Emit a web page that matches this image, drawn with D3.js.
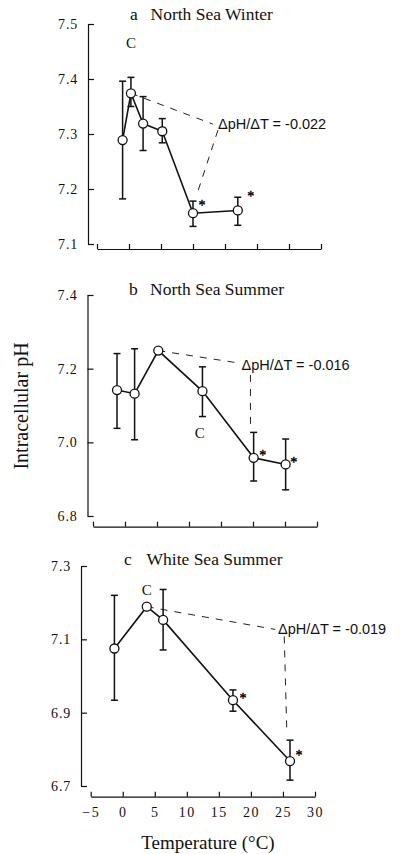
<!DOCTYPE html>
<html>
<head>
<meta charset="utf-8">
<script src="https://cdn.jsdelivr.net/npm/d3@7"></script>
<style>
  html, body { margin: 0; padding: 0; background: #fff; }
  svg { display: block; }
</style>
</head>
<body>
<svg id="chart" width="402" height="854"></svg>
<script>
// Panel a: North Sea Winter
const tempA = [-1, 0.3, 2.2, 5.2, 10, 17];
const phA = [7.289, 7.374, 7.319, 7.305, 7.156, 7.161];
const hiA = [7.396, 7.403, 7.368, 7.328, 7.178, 7.185];
const loA = [7.182, 7.350, 7.270, 7.284, 7.132, 7.134];
const starA = [false, false, false, false, true, true];
const yTicksA = [7.1, 7.2, 7.3, 7.4, 7.5];

// Panel b: North Sea Summer
const tempB = [-1.25, 1.5, 5.2, 12.1, 20.1, 25.1];
const phB = [7.142, 7.132, 7.249, 7.139, 6.958, 6.940];
const hiB = [7.241, 7.254, null, 7.205, 7.027, 7.009];
const loB = [7.038, 7.007, null, 7.070, 6.895, 6.871];
const starB = [false, false, false, false, true, true];
const yTicksB = [6.8, 7.0, 7.2, 7.4];

// Panel c: White Sea Summer
const tempC = [-1.3, 3.75, 6.3, 17.2, 26.1];
const phC = [7.075, 7.189, 7.153, 6.934, 6.768];
const hiC = [7.220, null, 7.236, 6.962, 6.825];
const loC = [6.934, null, 7.071, 6.904, 6.716];
const starC = [false, false, false, true, true];
const yTicksC = [6.7, 6.9, 7.1, 7.3];

const xTicks = [-5, 0, 5, 10, 15, 20, 25, 30];
const slopeLabels = ["\u0394pH/\u0394T = -0.022", "\u0394pH/\u0394T = -0.016", "\u0394pH/\u0394T = -0.019"];

const SERIF = '"Liberation Serif", "Times New Roman", serif';
const SANS = '"Liberation Sans", Arial, sans-serif';
const INK = "#111";

const panels = [
  {
    letter: "a", title: "North Sea Winter",
    temp: tempA, ph: phA, hi: hiA, lo: loA, star: starA,
    yDomain: [7.1, 7.5], yTicks: yTicksA,
    box: { yAxisX: 88, top: 24, bottom: 244, xl: 97, xr: 321, xAxisY: 249 },
    titleAt: { a: 130, t: 150.5, y: 20 },
    cAt: [0.3, 7.465],
    // dashed guide: control point -> label, label -> warm end
    guide1: [[0.3, 7.374], [13.1, 7.318]],
    guide2: [[13.9, 7.307], [10.6, 7.19]],
    labelAt: { x: 218, y: 129 },
    starOffsets: [[9, -12], [13, -18]],
    showXLabels: false
  },
  {
    letter: "b", title: "North Sea Summer",
    temp: tempB, ph: phB, hi: hiB, lo: loB, star: starB,
    yDomain: [6.8, 7.4], yTicks: yTicksB,
    box: { yAxisX: 87.5, top: 295, bottom: 516, xl: 93, xr: 317, xAxisY: 526.7 },
    titleAt: { a: 129, t: 150, y: 295 },
    cAt: [11.7, 7.025],
    guide1: [[5.2, 7.249], [17.9, 7.215]],
    guide2: [[19.6, 7.183], [19.6, 7.047]],
    labelAt: { x: 241.5, y: 370 },
    starOffsets: [[9, -7], [8, -6]],
    showXLabels: false
  },
  {
    letter: "c", title: "White Sea Summer",
    temp: tempC, ph: phC, hi: hiC, lo: loC, star: starC,
    yDomain: [6.7, 7.3], yTicks: yTicksC,
    box: { yAxisX: 81, top: 566, bottom: 786, xl: 90.7, xr: 315, xAxisY: 796.7 },
    titleAt: { a: 124, t: 146.5, y: 565 },
    cAt: [3.75, 7.235],
    guide1: [[3.75, 7.189], [23.8, 7.127]],
    guide2: [[25.2, 7.108], [25.6, 6.849]],
    labelAt: { x: 278, y: 634 },
    starOffsets: [[10, -6], [9, -10]],
    showXLabels: true
  }
];

const svg = d3.select("#chart");

panels.forEach((p, pi) => {
  const b = p.box;
  const x = d3.scaleLinear().domain([-5, 30]).range([b.xl, b.xr]);
  const y = d3.scaleLinear().domain(p.yDomain).range([b.bottom, b.top]);
  const g = svg.append("g");

  // y axis with inward ticks
  const yAxis = d3.axisLeft(y).tickValues(p.yTicks).tickFormat(d3.format(".1f"))
    .tickSizeInner(-6).tickSizeOuter(0).tickPadding(10);
  const ya = g.append("g").attr("transform", `translate(${b.yAxisX},0)`).call(yAxis)
    .attr("font-family", SERIF).attr("font-size", 14);
  ya.selectAll("text").style("font-family", SERIF).style("font-size", "14px")
    .style("letter-spacing", "0.8px").attr("fill", INK);
  ya.selectAll("line, path").attr("stroke", INK).attr("stroke-width", 1.2);

  // x axis, detached below the plot, ticks pointing up
  const xAxis = d3.axisBottom(x).tickValues(xTicks)
    .tickSizeInner(-5).tickSizeOuter(0).tickPadding(10)
    .tickFormat(p.showXLabels ? d3.format("d") : () => "");
  const xa = g.append("g").attr("transform", `translate(0,${b.xAxisY})`).call(xAxis)
    .attr("font-family", SERIF).attr("font-size", 14);
  xa.selectAll("text").style("font-family", SERIF).style("font-size", "14px")
    .style("letter-spacing", "1.5px").attr("fill", INK);
  xa.selectAll("line, path").attr("stroke", INK).attr("stroke-width", 1.2);

  // panel title
  const t = g.append("text").attr("y", p.titleAt.y)
    .style("font-family", SERIF).style("font-size", "17.5px").attr("fill", INK);
  t.append("tspan").attr("x", p.titleAt.a).text(p.letter);
  t.append("tspan").attr("x", p.titleAt.t).text(p.title);

  const pts = p.temp.map((d, i) => ({ t: d, v: p.ph[i], hi: p.hi[i], lo: p.lo[i], star: p.star[i] }));

  // dashed slope guides
  const guide = d3.line().x(d => x(d[0])).y(d => y(d[1]));
  [p.guide1, p.guide2].forEach(seg => {
    g.append("path").attr("d", guide(seg)).attr("fill", "none")
      .attr("stroke", "#222").attr("stroke-width", 1).attr("stroke-dasharray", "7,7");
  });

  // error bars
  const eb = g.append("g").attr("stroke", INK).attr("stroke-width", 1.5);
  pts.filter(d => d.hi !== null).forEach(d => {
    eb.append("line").attr("x1", x(d.t)).attr("x2", x(d.t)).attr("y1", y(d.hi)).attr("y2", y(d.lo));
    [d.hi, d.lo].forEach(v => {
      eb.append("line").attr("x1", x(d.t) - 3.5).attr("x2", x(d.t) + 3.5).attr("y1", y(v)).attr("y2", y(v));
    });
  });

  // connecting line
  const line = d3.line().x(d => x(d.t)).y(d => y(d.v));
  g.append("path").datum(pts).attr("d", line).attr("fill", "none")
    .attr("stroke", INK).attr("stroke-width", 1.6);

  // open circles
  g.selectAll("circle.pt").data(pts).join("circle").attr("class", "pt")
    .attr("cx", d => x(d.t)).attr("cy", d => y(d.v)).attr("r", 4.5)
    .attr("fill", "#fff").attr("stroke", INK).attr("stroke-width", 1.3);

  // significance asterisks (stroked so they render as solid dark glyphs)
  let k = 0;
  pts.forEach(d => {
    if (!d.star) return;
    const off = p.starOffsets[k++];
    g.append("text").style("font-family", SERIF).style("font-size", "14px")
      .attr("x", x(d.t) + off[0]).attr("y", y(d.v) + off[1] + 9)
      .attr("text-anchor", "middle").attr("fill", "#000")
      .attr("stroke", "#000").attr("stroke-width", 0.4).text("*");
  });

  // control label
  g.append("text").style("font-family", SERIF).style("font-size", "15px")
    .attr("x", x(p.cAt[0])).attr("y", y(p.cAt[1]) + 5).attr("text-anchor", "middle")
    .attr("fill", INK).text("C");

  // slope label
  g.append("text").style("font-family", SANS).style("font-size", "14.5px")
    .attr("x", p.labelAt.x).attr("y", p.labelAt.y).attr("fill", INK)
    .text(slopeLabels[pi]);
});

// shared axis titles
svg.append("text").style("font-family", SERIF).style("font-size", "20px").attr("fill", INK)
  .attr("text-anchor", "middle").attr("transform", "translate(28,406) rotate(-90)")
  .text("Intracellular pH");
svg.append("text").style("font-family", SERIF).style("font-size", "19px").attr("fill", INK)
  .attr("text-anchor", "middle").attr("x", 208).attr("y", 849)
  .text("Temperature (\u00B0C)");
</script>
</body>
</html>
